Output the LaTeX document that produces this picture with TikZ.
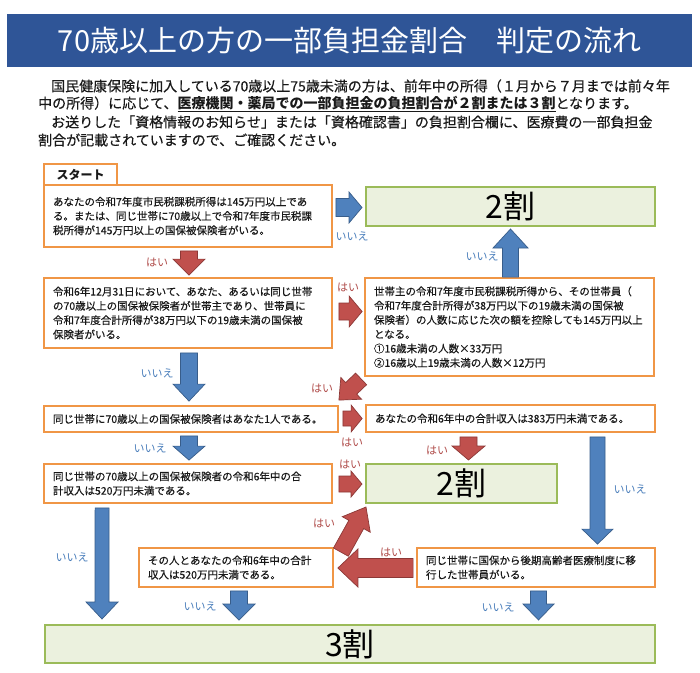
\documentclass[tikz,border=0pt]{standalone}
\usepackage{fontspec}
\setmainfont{Noto Sans CJK JP}
\newfontfamily\jpmid{Noto Sans CJK JP}[FakeBold=0.4]
\usetikzlibrary{calc}
\definecolor{hdrblue}{RGB}{47,85,151}
\definecolor{boxorange}{RGB}{240,150,70}
\definecolor{grnborder}{RGB}{155,187,89}
\definecolor{grnfill}{RGB}{235,241,222}
\definecolor{arrblue}{RGB}{79,129,189}
\definecolor{arrblueline}{RGB}{56,93,138}
\definecolor{arrred}{RGB}{192,80,77}
\definecolor{arrredline}{RGB}{140,56,54}
\definecolor{yeslbl}{RGB}{176,76,74}
\definecolor{nolbl}{RGB}{74,126,187}
\definecolor{txtcol}{RGB}{25,25,25}
% block arrow: #1 style, #2 tail coord name, #3 tip coord name, #4 shaft half width, #5 head half width, #6 head length
\newcommand\blockarr[6]{%
  \coordinate (bahead) at ($(#3)!#6pt!(#2)$);
  \filldraw[#1] ($(#2)!#4pt!90:(#3)$) -- ($(bahead)!#4pt!90:(#3)$) -- ($(bahead)!#5pt!90:(#3)$) -- (#3)
     -- ($(bahead)!#5pt!-90:(#3)$) -- ($(bahead)!#4pt!-90:(#3)$) -- ($(#2)!#4pt!-90:(#3)$) -- cycle;
}
\tikzset{
  obox/.style={draw=boxorange, line width=1.8pt, fill=white, inner xsep=9pt, inner ysep=0pt,
    align=left, font=\jpmid\fontsize{10.5}{14.3}\selectfont, text=txtcol},
  gbox/.style={draw=grnborder, line width=2pt, fill=grnfill, inner sep=0pt,
    font=\fontsize{32}{36}\selectfont, text=black},
  bluearr/.style={fill=arrblue, draw=arrblueline, line width=0.7pt, line join=miter},
  redarr/.style={fill=arrred, draw=arrredline, line width=0.7pt, line join=miter},
  yes/.style={font=\fontsize{11}{12}\selectfont, text=yeslbl, inner sep=0pt},
  no/.style={font=\fontsize{11}{12}\selectfont, text=nolbl, inner sep=0pt},
  intro/.style={font=\jpmid\fontsize{14}{16}\selectfont, text=txtcol, anchor=west, inner sep=0pt},
}
\begin{document}
\begin{tikzpicture}[x=1pt, y=-1pt]
\useasboundingbox (0,0) rectangle (700,672);
\fill[white] (0,0) rectangle (700,672);
% header
\node[fill=hdrblue, minimum width=685pt, minimum height=53pt, inner sep=0pt] (hdr) at (349.5,40.5) {};
\node[font=\fontsize{29}{32}\selectfont, text=white, inner sep=0pt] (title) at (hdr.center) {70歳以上の方の一部負担金割合　判定の流れ};
% intro text
\node[intro] (i1) at (51,86) {国民健康保険に加入している70歳以上75歳未満の方は、前年中の所得（１月から７月までは前々年};
\node[intro] (i2) at (38,104) {中の所得）に応じて、\underline{{\normalfont\bfseries 医療機関・薬局での一部負担金の負担割合が２割または３割}}となります。};
\node[intro] (i3) at (51,122) {お送りした「資格情報のお知らせ」または「資格確認書」の負担割合欄に、医療費の一部負担金};
\node[intro] (i4) at (38,140) {割合が記載されていますので、ご確認ください。};
% boxes
\node[obox, minimum width=73pt, minimum height=21pt, font=\fontsize{12}{14}\selectfont\bfseries, align=center] (start) at (80.5,174.5) {スタート};
\node[obox, minimum width=288pt, minimum height=62pt, text width=270pt] (b1) at (188,216) {あなたの令和7年度市民税課税所得は145万円以上であ\\る。または、同じ世帯に70歳以上で令和7年度市民税課\\税所得が145万円以上の国保被保険者がいる。};
\node[gbox, minimum width=289pt, minimum height=39pt] (r2a) at (510.5,206.5) {2割};
\node[obox, minimum width=288pt, minimum height=70pt, text width=270pt] (b2) at (188,313) {令和6年12月31日において、あなた、あるいは同じ世帯\\の70歳以上の国保被保険者が世帯主であり、世帯員に\\令和7年度合計所得が38万円以下の19歳未満の国保被\\保険者がいる。};
\node[obox, minimum width=289pt, minimum height=98pt, text width=271pt] (b3) at (509.5,327) {世帯主の令和7年度市民税課税所得から、その世帯員（\\令和7年度合計所得が38万円以下の19歳未満の国保被\\保険者）の人数に応じた次の額を控除しても145万円以上\\となる。\\①16歳未満の人数×33万円\\②16歳以上19歳未満の人数×12万円};
\node[obox, minimum width=294pt, minimum height=26pt, text width=276pt] (b4) at (191,419) {同じ世帯に70歳以上の国保被保険者はあなた1人である。};
\node[obox, minimum width=289pt, minimum height=27pt, text width=271pt] (b5) at (510.5,418.5) {あなたの令和6年中の合計収入は383万円未満である。};
\node[obox, minimum width=288pt, minimum height=39pt, text width=270pt] (b6) at (188,483.5) {同じ世帯の70歳以上の国保被保険者の令和6年中の合\\計収入は520万円未満である。};
\node[gbox, minimum width=191pt, minimum height=39pt] (r2b) at (461.5,483.5) {2割};
\node[obox, minimum width=194pt, minimum height=39pt, text width=176pt] (b7) at (236,567.5) {その人とあなたの令和6年中の合計\\収入は520万円未満である。};
\node[obox, minimum width=238pt, minimum height=39pt, text width=220pt] (b8) at (536,567.5) {同じ世帯に国保から後期高齢者医療制度に移\\行した世帯員がいる。};
\node[gbox, minimum width=610pt, minimum height=38pt] (r3) at (350,644) {3割};
% arrow end points
\coordinate (a1t) at ($(b1.east |- r2a.west)+(3,1)$);
\coordinate (a1h) at ($(r2a.west)+(-3,1)$);
\coordinate (a2t) at ($(b1.south)+(1,3)$);
\coordinate (a2h) at ($(b2.north)+(1,-2)$);
\coordinate (a3t) at ($(b2.east)+(6,-1.5)$);
\coordinate (a3h) at ($(b3.west |- b2.east)+(-2,-1.5)$);
\coordinate (a4t) at ($(b3.north)+(1,0)$);
\coordinate (a4h) at ($(r2a.south)+(0,2)$);
\coordinate (a5t) at ($(b2.south)+(1,4)$);
\coordinate (a5h) at ($(b4.north)+(-2,-4)$);
\coordinate (a6t) at ($(b3.south west)+(-3,2)$);
\coordinate (a6h) at ($(b4.north east)+(0,-5)$);
\coordinate (a7t) at ($(b4.east)+(4,-0.5)$);
\coordinate (a7h) at ($(b5.west)+(-3,0)$);
\coordinate (a8t) at ($(b4.south)+(-2,3)$);
\coordinate (a8h) at ($(b6.north)+(1,-3)$);
\coordinate (a9t) at ($(b5.south)+(-42,4)$);
\coordinate (a9h) at ($(r2b.north)+(7,-3)$);
\coordinate (a10t) at ($(b6.east)+(6,0.5)$);
\coordinate (a10h) at ($(r2b.west)+(-3,0.5)$);
\coordinate (a11t) at ($(b5.south)+(87,4)$);
\coordinate (a11h) at ($(b8.north)+(61.5,-3)$);
\coordinate (a12t) at ($(b6.south west)+(59,4)$);
\coordinate (a12h) at ($(r3.north west)+(58,-5)$);
\coordinate (a13t) at ($(b7.north east)+(7,5)$);
\coordinate (a13h) at ($(r2b.south west)+(1,3)$);
\coordinate (a14t) at ($(b8.west)+(-3,0.5)$);
\coordinate (a14h) at ($(b7.east)+(4,0.5)$);
\coordinate (a15t) at ($(b7.south)+(3,3)$);
\coordinate (a15h) at ($(r3.north)+(-111,-4)$);
\coordinate (a16t) at ($(b8.south)+(2.5,3)$);
\coordinate (a16h) at ($(r3.north)+(188.5,-4)$);
% arrows
\blockarr{bluearr}{a1t}{a1h}{9}{15.5}{13}
\blockarr{redarr}{a2t}{a2h}{8.5}{16}{16}
\blockarr{redarr}{a3t}{a3h}{8.5}{15.5}{13}
\blockarr{bluearr}{a4t}{a4h}{8}{17.5}{19}
\blockarr{bluearr}{a5t}{a5h}{8.5}{16}{17}
\blockarr{redarr}{a6t}{a6h}{8}{15}{17}
\blockarr{redarr}{a7t}{a7h}{7.5}{13.5}{11}
\blockarr{bluearr}{a8t}{a8h}{8.5}{16}{14}
\blockarr{redarr}{a9t}{a9h}{8.5}{16.5}{14}
\blockarr{redarr}{a10t}{a10h}{8}{13}{11}
\blockarr{bluearr}{a11t}{a11h}{7.5}{15.5}{15}
\blockarr{bluearr}{a12t}{a12h}{7}{16}{17}
\blockarr{redarr}{a13t}{a13h}{8.5}{16}{20}
\blockarr{redarr}{a14t}{a14h}{9.5}{19}{20}
\blockarr{bluearr}{a15t}{a15h}{8.5}{16}{16}
\blockarr{bluearr}{a16t}{a16h}{8}{15.5}{16}
% labels
\node[yes] (y1) at (157,262) {はい};
\node[yes] (y2) at (348,287) {はい};
\node[yes] (y3) at (322,388) {はい};
\node[yes] (y4) at (352,442) {はい};
\node[yes] (y5) at (437,450) {はい};
\node[yes] (y6) at (350,464) {はい};
\node[yes] (y7) at (324,523) {はい};
\node[yes] (y8) at (391,552) {はい};
\node[no] (n1) at (352,236) {いいえ};
\node[no] (n2) at (482,256) {いいえ};
\node[no] (n3) at (157,373) {いいえ};
\node[no] (n4) at (150,448) {いいえ};
\node[no] (n5) at (630,489) {いいえ};
\node[no] (n6) at (72,557) {いいえ};
\node[no] (n7) at (200,606) {いいえ};
\node[no] (n8) at (498,607) {いいえ};
\end{tikzpicture}
\end{document}
